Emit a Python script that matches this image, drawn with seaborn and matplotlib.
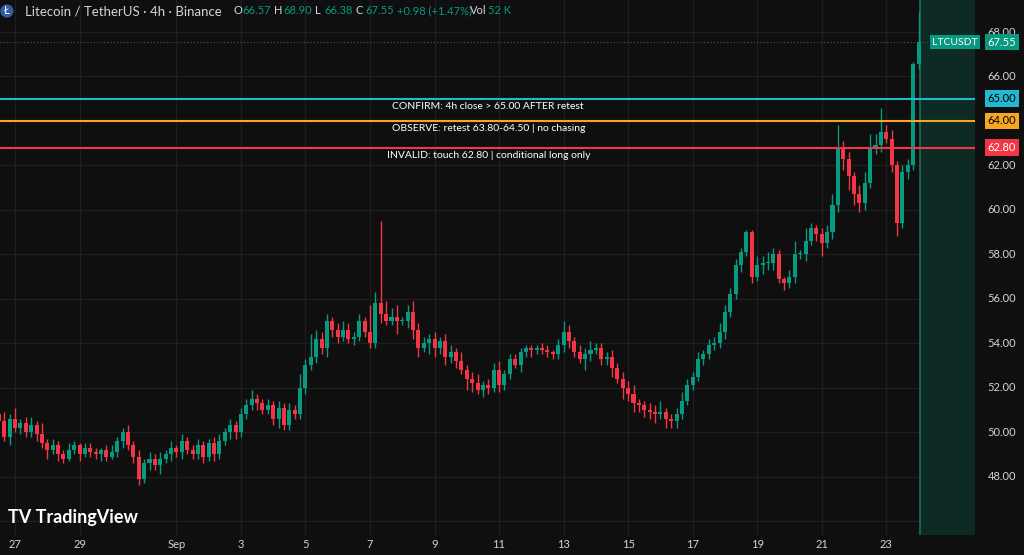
import numpy as np
import pandas as pd
import seaborn as sns
import matplotlib.pyplot as plt

closes = [
    50.5, 49.8, 50.6, 50.2, 50.4, 50.0,
    50.3, 49.9, 49.5, 49.2, 49.4, 49.0,
    48.8, 49.2, 49.4, 49.0, 49.3, 49.1,
    49.0, 49.2, 48.9, 49.1, 49.6, 50.0,
    49.4, 48.9, 47.9, 48.6, 48.8, 48.5,
    48.8, 49.0, 49.3, 49.1,
    49.6, 49.2, 49.0, 49.4, 48.9, 49.5,
    49.0, 49.6, 50.0, 50.3, 50.0, 50.8,
    51.2, 51.5, 51.3, 51.0, 51.2, 50.6,
    51.1, 50.3, 51.0, 50.8, 52.0, 53.0,
    53.4, 54.2, 53.8, 55.0, 54.6, 54.3,
    54.6, 54.2, 54.3, 55.0, 54.5, 54.0,
    55.8, 55.3, 55.0, 55.2, 55.0, 55.0,
    55.4, 54.6, 53.8, 54.0, 54.2, 53.8,
    54.1, 53.4, 53.6, 53.2, 52.8, 52.4,
    52.2, 51.9, 52.1, 52.0, 52.8, 52.1,
    52.6, 53.3, 53.0, 53.6, 53.8, 53.7,
    53.8, 53.7, 53.6, 53.5,
    53.9, 54.5, 54.1, 53.6, 53.3, 53.5,
    53.7, 53.8, 53.3, 53.4, 52.9, 52.4,
    52.0, 51.7, 51.3, 51.2, 51.0, 50.9,
    50.8, 50.9, 50.6, 50.5, 50.8, 51.4,
    52.1, 52.5, 53.3, 53.5, 53.9, 54.0,
    54.5, 55.4, 56.2, 57.5, 58.1, 59.0,
    57.0, 57.5, 57.6, 57.6, 58.0, 56.9,
    56.7, 57.0, 58.0, 58.0, 58.6, 59.2,
    58.9, 58.5, 59.0, 60.2, 62.8, 62.3,
    61.5, 60.7, 60.3, 61.2, 62.8, 62.9,
    63.5, 63.2, 62.0, 59.4, 61.7, 62.0,
    66.57, 67.55,
]
first_open = 50.8
wick_up = [
    0.3, 0.4, 0.2, 0.5, 0.2, 0.3,
    0.4, 0.2, 0.5, 0.2, 0.3, 0.2,
    0.2, 0.3, 0.2, 0.1, 0.2, 0.2,
    0.2, 0.1, 0.2, 0.3, 0.2, 0.2,
    0.3, 0.2, 0.3, 0.2, 0.3, 0.2,
    0.3, 0.2, 0.3, 0.1,
    0.3, 0.2, 0.2, 0.3, 0.2, 0.2,
    0.3, 0.3, 0.2, 0.3, 0.2, 0.3,
    0.3, 0.4, 0.2, 0.2, 0.3, 0.2,
    0.3, 0.2, 0.3, 0.2, 0.6, 0.3,
    1.0, 0.4, 0.3, 0.3, 0.2, 0.3,
    0.4, 0.3, 0.2, 0.3, 0.2, 1.2,
    0.5, 3.7, 0.6, 0.4, 0.5, 0.2,
    0.3, 0.5, 0.3, 0.3, 0.2, 0.3,
    0.2, 0.3, 0.3, 0.2, 0.4, 0.2,
    0.3, 0.4, 0.2, 0.3, 0.3, 0.4,
    0.2, 0.2, 0.2, 0.2, 0.1, 0.1,
    0.1, 0.2, 0.2, 0.1,
    0.3, 0.5, 0.3, 0.2, 0.3, 0.3,
    0.4, 0.2, 0.2, 0.2, 0.3, 0.2,
    0.3, 0.3, 0.4, 0.2, 0.2, 0.3,
    0.3, 0.5, 0.2, 0.2, 0.3, 0.4,
    0.3, 0.2, 0.3, 0.2, 0.3, 0.3,
    0.4, 0.3, 0.3, 0.3, 0.2, 0.1,
    0.1, 0.4, 0.3, 0.5, 0.3, 0.2,
    0.1, 0.3, 0.6, 0.2, 0.6, 0.2,
    0.1, 0.3, 0.3, 0.5, 1.0, 0.3,
    0.3, 0.2, 0.4, 0.5, 0.6, 0.5,
    1.1, 0.3, 0.4, 0.2, 0.3, 0.3,
    0.1, 1.35,
]
wick_dn = [
    0.3, 0.2, 0.4, 0.2, 0.3, 0.2,
    0.2, 0.3, 0.2, 0.4, 0.2, 0.3,
    0.2, 0.1, 0.2, 0.3, 0.1, 0.2,
    0.2, 0.3, 0.2, 0.1, 0.2, 0.3,
    0.2, 0.3, 0.3, 0.2, 0.3, 0.2,
    0.4, 0.2, 0.3, 0.2,
    0.3, 0.2, 0.2, 0.2, 0.3, 0.2,
    0.3, 0.2, 0.2, 0.3, 0.3, 0.2,
    0.2, 0.2, 0.3, 0.2, 0.2, 0.3,
    0.4, 0.2, 0.2, 0.2, 0.2, 0.3,
    0.2, 0.3, 0.3, 0.4, 0.3, 0.3,
    0.2, 0.2, 0.3, 0.2, 0.2, 0.2,
    0.2, 0.4, 0.2, 0.2, 0.6, 0.2,
    0.3, 0.4, 0.4, 0.2, 0.5, 0.4,
    0.3, 0.4, 0.3, 0.3, 0.2, 0.5,
    0.4, 0.2, 0.3, 0.3, 0.2, 0.3,
    0.2, 0.2, 0.1, 0.3, 0.2, 0.3,
    0.2, 0.2, 0.2, 0.2,
    0.2, 0.3, 0.3, 0.2, 0.2, 0.5,
    0.3, 0.2, 0.3, 0.3, 0.4, 0.2,
    0.5, 0.3, 0.4, 0.3, 0.3, 0.3,
    0.4, 0.2, 0.4, 0.3, 0.3, 0.2,
    0.2, 0.2, 0.2, 0.3, 0.2, 0.2,
    0.2, 0.3, 0.2, 0.2, 0.3, 0.2,
    0.3, 0.2, 0.4, 0.3, 0.3, 0.2,
    0.3, 0.2, 0.3, 0.2, 0.3, 0.2,
    0.3, 0.6, 0.2, 0.3, 0.3, 0.5,
    0.6, 0.5, 0.4, 0.3, 0.2, 0.3,
    0.3, 0.2, 0.3, 0.6, 0.2, 0.3,
    0.2, 0.22,
]
tick_pos = [3, 15, 33, 45, 57, 69, 81, 93, 105, 117, 129, 141, 153, 165]
tick_labels = ["27", "29", "Sep", "3", "5", "7", "9", "11", "13", "15", "17", "19", "21", "23"]
levels = [65.00, 64.00, 62.80]
level_colors = ["#22b8cf", "#f5a623", "#f23645"]
level_texts = ["CONFIRM: 4h close > 65.00 AFTER retest",
               "OBSERVE: retest 63.80-64.50 | no chasing",
               "INVALID: touch 62.80 | conditional long only"]
price_ticks = [48, 50, 52, 54, 56, 58, 60, 62, 66, 68]

assert len(closes) == len(wick_up) == len(wick_dn)

df = pd.DataFrame({"close": closes})
df["open"] = [first_open] + closes[:-1]
df["i"] = np.arange(len(df))
df["up"] = df["close"] >= df["open"]
df["top"] = df[["open", "close"]].max(axis=1)
df["bot"] = df[["open", "close"]].min(axis=1)
df["high"] = df["top"] + np.array(wick_up)
df["low"] = df["bot"] - np.array(wick_dn)

GREEN, RED, BG = "#089981", "#f23645", "#0f0f0f"

sns.set_theme(style="dark", rc={"axes.facecolor": BG, "figure.facecolor": BG})
plt.rcParams["font.family"] = ["Lato", "DejaVu Sans"]

fig = plt.figure(figsize=(10.24, 5.55), dpi=100)
ax = fig.add_axes([0, 1 - 535 / 555, 975 / 1024, 535 / 555])
ax.set_facecolor(BG)

n = len(df)
xmin, xmax = 0.2, 181.5
ax.set_xlim(xmin, xmax)
ax.set_ylim(45.37, 69.44)
for t in tick_pos:
    ax.axvline(t, color="#1e1e1e", lw=1, zorder=0)
for p in range(46, 70, 2):
    ax.axhline(p, color="#1e1e1e", lw=1, zorder=0)

ax.axvspan(n - 1 + 0.3, xmax, color="#0e2a24", zorder=0)
ax.axvline(n - 1 + 0.3, color="#1c6b58", lw=1.2, zorder=1)

colors = np.where(df["up"], GREEN, RED)
ax.vlines(df["i"], df["low"], df["high"], colors=colors, lw=1, zorder=2)
ax.bar(df["i"], (df["top"] - df["bot"]).clip(lower=0.05), bottom=df["bot"],
       width=0.75, color=colors, edgecolor="none", linewidth=0, zorder=3)

for lv, c, txt in zip(levels, level_colors, level_texts):
    ax.axhline(lv, color=c, lw=1.5, zorder=4)
    ax.text(91, lv - 0.15, txt, color="white", fontsize=7.5, ha="center", va="top", zorder=5)
ax.axhline(closes[-1], color="#555555", lw=0.8, ls=(0, (1, 2)), zorder=1)

ax.set_xticks([])
ax.set_yticks([])
for s in ax.spines.values():
    s.set_visible(False)

# bottom date labels
for t, lab in zip(tick_pos, tick_labels):
    xf = ax.transData.transform((t, 0))[0] / 1024
    fig.text(xf, 10 / 555, lab, color="#d1d4dc", fontsize=8, ha="center", va="center")

# right price labels
for p in price_ticks:
    yf = ax.transData.transform((0, p))[1] / 555
    fig.text(1002 / 1024, yf, f"{p:.2f}", color="#d1d4dc", fontsize=8, ha="center", va="center")
for lv, c in zip(levels, level_colors):
    yf = ax.transData.transform((0, lv))[1] / 555
    fig.text(1002 / 1024, yf, f"{lv:.2f}", color="black" if c != RED else "white", fontsize=8,
             ha="center", va="center", bbox=dict(boxstyle="square,pad=0.25", fc=c, ec="none"))
yf = ax.transData.transform((0, closes[-1]))[1] / 555
fig.text(1002 / 1024, yf, f"{closes[-1]:.2f}", color="white", fontsize=8, ha="center", va="center",
         bbox=dict(boxstyle="square,pad=0.25", fc=GREEN, ec="none"))
fig.text(955 / 1024, yf, "LTCUSDT", color="white", fontsize=7.5, ha="center", va="center",
         bbox=dict(boxstyle="square,pad=0.25", fc=GREEN, ec="none"))

# header
hy = 1 - 11 / 555
fig.text(4 / 1024, hy, "Ł", color="white", fontsize=8, ha="left", va="center",
         bbox=dict(boxstyle="circle,pad=0.1", fc="#345d9d", ec="none"))
fig.text(25 / 1024, hy, "Litecoin / TetherUS · 4h · Binance", color="#d1d4dc",
         fontsize=9.5, ha="left", va="center")
x0 = 233
for k, v in [("O", "66.57"), ("H", "68.90"), ("L", "66.38"), ("C", "67.55")]:
    fig.text(x0 / 1024, hy, k, color="#d1d4dc", fontsize=8, ha="left", va="center")
    fig.text((x0 + 9) / 1024, hy, v, color=GREEN, fontsize=8, ha="left", va="center")
    x0 += 41
fig.text(x0 / 1024, hy, "+0.98 (+1.47%)", color=GREEN, fontsize=8, ha="left", va="center")
fig.text(470 / 1024, hy, "Vol", color="#d1d4dc", fontsize=8, ha="left", va="center")
fig.text(488 / 1024, hy, "52 K", color=GREEN, fontsize=8, ha="left", va="center")

fig.text(8 / 1024, 1 - 517 / 555, "TV TradingView", color="white", fontsize=13,
         fontweight="bold", ha="left", va="center")

plt.savefig("out.png", dpi=100, facecolor=BG)
